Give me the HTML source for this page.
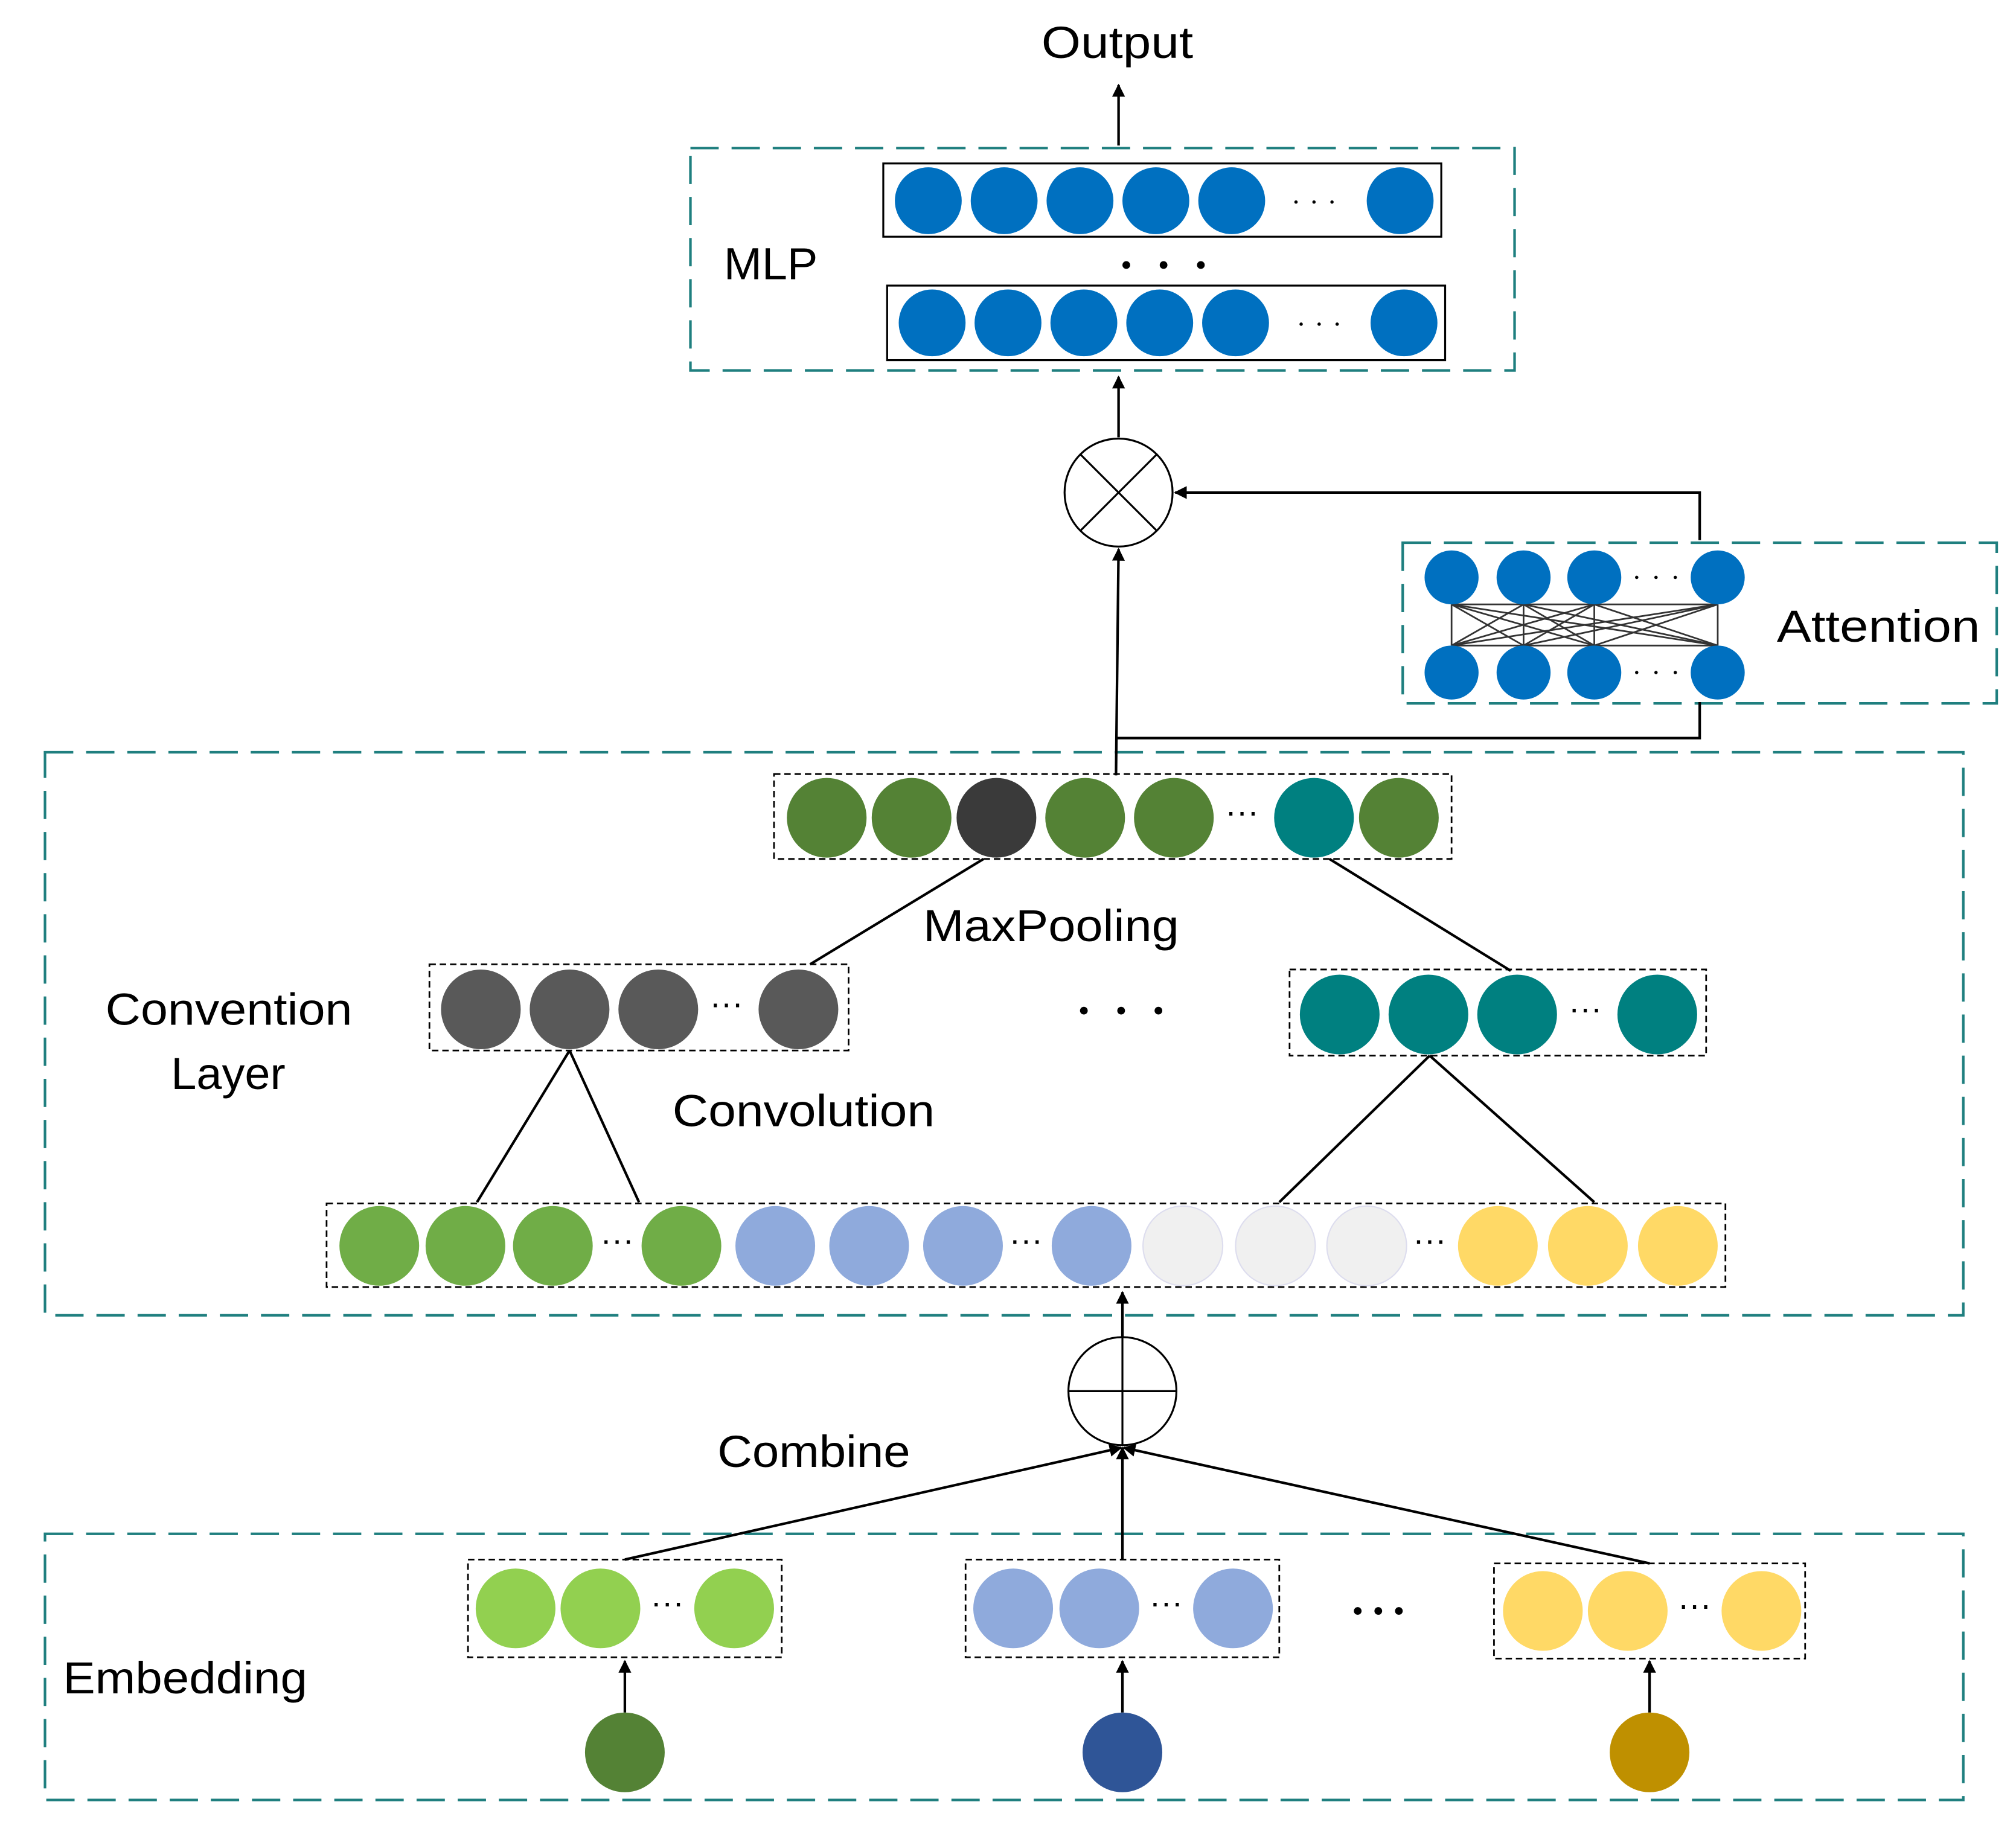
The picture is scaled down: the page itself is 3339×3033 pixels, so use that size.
<!DOCTYPE html>
<html><head><meta charset="utf-8"><style>
html,body{margin:0;padding:0;background:#fff;}
svg{display:block;}
text{font-family:"Liberation Sans",sans-serif;fill:#000;}
</style></head><body>
<svg width="3339" height="3033" viewBox="0 0 1568 1424" xmlns="http://www.w3.org/2000/svg">
<defs>
<marker id="ah" markerWidth="10" markerHeight="10" refX="9" refY="5" orient="auto" markerUnits="userSpaceOnUse">
<path d="M0,0 L10,5 L0,10 Z" fill="#000"/></marker>
</defs>
<g fill="none" stroke="#1f7f7f" stroke-width="2" stroke-dasharray="22,10">
<rect x="537" y="115" width="641" height="173"/>
<rect x="1091" y="422" width="462" height="125"/>
<rect x="35" y="585" width="1492" height="438"/>
<rect x="35" y="1193" width="1492" height="207"/>
</g>
<g fill="none" stroke="#000" stroke-width="1.5">
<rect x="687" y="127" width="434" height="57"/>
<rect x="690" y="222" width="434" height="58"/>
</g>
<g fill="none" stroke="#000" stroke-width="1.3" stroke-dasharray="5,3">
<rect x="602" y="602" width="527" height="66"/>
<rect x="334" y="750" width="326" height="67"/>
<rect x="1003" y="754" width="324" height="67"/>
<rect x="254" y="936" width="1088" height="65"/>
<rect x="364" y="1213" width="244" height="76"/>
<rect x="751" y="1213" width="244" height="76"/>
<rect x="1162" y="1216" width="242" height="74"/>
</g>
<g font-size="35">
<text x="810" y="45" textLength="118" lengthAdjust="spacingAndGlyphs">Output</text>
<text x="563" y="217" textLength="73" lengthAdjust="spacingAndGlyphs">MLP</text>
<text x="1382" y="499" textLength="158" lengthAdjust="spacingAndGlyphs">Attention</text>
<text x="718" y="732" textLength="199" lengthAdjust="spacingAndGlyphs">MaxPooling</text>
<text x="82" y="797" textLength="192" lengthAdjust="spacingAndGlyphs">Convention</text>
<text x="133" y="847" textLength="89" lengthAdjust="spacingAndGlyphs">Layer</text>
<text x="523" y="876" textLength="204" lengthAdjust="spacingAndGlyphs">Convolution</text>
<text x="558" y="1141" textLength="150" lengthAdjust="spacingAndGlyphs">Combine</text>
<text x="49" y="1317" textLength="190" lengthAdjust="spacingAndGlyphs">Embedding</text>
</g>
<g fill="#0070c0">
<circle cx="722" cy="156" r="26"/><circle cx="781" cy="156" r="26"/><circle cx="840" cy="156" r="26"/><circle cx="899" cy="156" r="26"/><circle cx="958" cy="156" r="26"/><circle cx="1089" cy="156" r="26"/>
<circle cx="725" cy="251" r="26"/><circle cx="784" cy="251" r="26"/><circle cx="843" cy="251" r="26"/><circle cx="902" cy="251" r="26"/><circle cx="961" cy="251" r="26"/><circle cx="1092" cy="251" r="26"/>
</g>
<g fill="#000">
<circle cx="1008" cy="157" r="1.3"/><circle cx="1022" cy="157" r="1.3"/><circle cx="1036" cy="157" r="1.3"/>
<circle cx="1012" cy="252" r="1.3"/><circle cx="1026" cy="252" r="1.3"/><circle cx="1040" cy="252" r="1.3"/>
<circle cx="876" cy="206" r="3"/><circle cx="905" cy="206" r="3"/><circle cx="934" cy="206" r="3"/>
<circle cx="843" cy="786" r="3"/><circle cx="872" cy="786" r="3"/><circle cx="901" cy="786" r="3"/>
<circle cx="1056" cy="1253" r="3"/><circle cx="1072" cy="1253" r="3"/><circle cx="1088" cy="1253" r="3"/>
<circle cx="1273" cy="449" r="1.3"/><circle cx="1288" cy="449" r="1.3"/><circle cx="1303" cy="449" r="1.3"/>
<circle cx="1273" cy="523" r="1.3"/><circle cx="1288" cy="523" r="1.3"/><circle cx="1303" cy="523" r="1.3"/>
</g>
<g stroke="#333" stroke-width="1.3">
<line x1="1129" y1="470" x2="1129" y2="502"/><line x1="1336" y1="470" x2="1336" y2="502"/>
<line x1="1129" y1="470" x2="1336" y2="470"/><line x1="1129" y1="502" x2="1336" y2="502"/>
<line x1="1129" y1="470" x2="1185" y2="502"/><line x1="1129" y1="470" x2="1240" y2="502"/><line x1="1129" y1="470" x2="1336" y2="502"/>
<line x1="1185" y1="470" x2="1129" y2="502"/><line x1="1185" y1="470" x2="1240" y2="502"/><line x1="1185" y1="470" x2="1336" y2="502"/>
<line x1="1240" y1="470" x2="1129" y2="502"/><line x1="1240" y1="470" x2="1185" y2="502"/><line x1="1240" y1="470" x2="1336" y2="502"/>
<line x1="1336" y1="470" x2="1129" y2="502"/><line x1="1336" y1="470" x2="1185" y2="502"/><line x1="1336" y1="470" x2="1240" y2="502"/>
<line x1="1185" y1="470" x2="1185" y2="502"/><line x1="1240" y1="470" x2="1240" y2="502"/>
</g>
<g fill="#0070c0">
<circle cx="1129" cy="449" r="21"/><circle cx="1185" cy="449" r="21"/><circle cx="1240" cy="449" r="21"/><circle cx="1336" cy="449" r="21"/>
<circle cx="1129" cy="523" r="21"/><circle cx="1185" cy="523" r="21"/><circle cx="1240" cy="523" r="21"/><circle cx="1336" cy="523" r="21"/>
</g>
<g stroke="#000" stroke-width="2" fill="none">
<line x1="870" y1="113" x2="870" y2="66" marker-end="url(#ah)"/>
<line x1="870" y1="340" x2="870" y2="293" marker-end="url(#ah)"/>
<polyline points="1322,420 1322,383 914,383" marker-end="url(#ah)"/>
<line x1="868" y1="603" x2="870" y2="427" marker-end="url(#ah)"/>
<polyline points="868,574 1322,574 1322,546"/>
<line x1="765" y1="668" x2="630" y2="750"/>
<line x1="1034" y1="668" x2="1175" y2="755"/>
<line x1="443" y1="817" x2="371" y2="935"/><line x1="443" y1="817" x2="497" y2="935"/>
<line x1="1112" y1="821" x2="995" y2="935"/><line x1="1112" y1="821" x2="1240" y2="935"/>
<line x1="873" y1="1040" x2="873" y2="1005" marker-end="url(#ah)"/>
<line x1="486" y1="1213" x2="872" y2="1126" marker-end="url(#ah)"/>
<line x1="873" y1="1213" x2="873" y2="1126" marker-end="url(#ah)"/>
<line x1="1283" y1="1216" x2="874" y2="1126" marker-end="url(#ah)"/>
<line x1="486" y1="1332" x2="486" y2="1292" marker-end="url(#ah)"/>
<line x1="873" y1="1332" x2="873" y2="1292" marker-end="url(#ah)"/>
<line x1="1283" y1="1332" x2="1283" y2="1292" marker-end="url(#ah)"/>
</g>
<circle cx="870" cy="383" r="42" fill="#fff" stroke="#000" stroke-width="1.5"/>
<line x1="840" y1="353" x2="900" y2="413" stroke="#000" stroke-width="1.5"/>
<line x1="900" y1="353" x2="840" y2="413" stroke="#000" stroke-width="1.5"/>
<circle cx="873" cy="1082" r="42" fill="#fff" stroke="#000" stroke-width="1.5"/>
<line x1="831" y1="1082" x2="915" y2="1082" stroke="#000" stroke-width="1.5"/>
<line x1="873" y1="1040" x2="873" y2="1124" stroke="#000" stroke-width="1.5"/>
<g>
<circle cx="643" cy="636" r="31" fill="#548235"/><circle cx="709" cy="636" r="31" fill="#548235"/><circle cx="775" cy="636" r="31" fill="#3a3a3a"/><circle cx="844" cy="636" r="31" fill="#548235"/><circle cx="913" cy="636" r="31" fill="#548235"/><circle cx="1022" cy="636" r="31" fill="#008080"/><circle cx="1088" cy="636" r="31" fill="#548235"/>
<circle cx="374" cy="785" r="31" fill="#595959"/><circle cx="443" cy="785" r="31" fill="#595959"/><circle cx="512" cy="785" r="31" fill="#595959"/><circle cx="621" cy="785" r="31" fill="#595959"/>
<circle cx="1042" cy="789" r="31" fill="#008080"/><circle cx="1111" cy="789" r="31" fill="#008080"/><circle cx="1180" cy="789" r="31" fill="#008080"/><circle cx="1289" cy="789" r="31" fill="#008080"/>
<circle cx="295" cy="969" r="31" fill="#70ad47"/><circle cx="362" cy="969" r="31" fill="#70ad47"/><circle cx="430" cy="969" r="31" fill="#70ad47"/><circle cx="530" cy="969" r="31" fill="#70ad47"/>
<circle cx="603" cy="969" r="31" fill="#8faadc"/><circle cx="676" cy="969" r="31" fill="#8faadc"/><circle cx="749" cy="969" r="31" fill="#8faadc"/><circle cx="849" cy="969" r="31" fill="#8faadc"/>
<circle cx="920" cy="969" r="31" fill="#f0f0f0" stroke="#dde" stroke-width="1"/><circle cx="992" cy="969" r="31" fill="#f0f0f0" stroke="#dde" stroke-width="1"/><circle cx="1063" cy="969" r="31" fill="#f0f0f0" stroke="#dde" stroke-width="1"/>
<circle cx="1165" cy="969" r="31" fill="#ffd966"/><circle cx="1235" cy="969" r="31" fill="#ffd966"/><circle cx="1305" cy="969" r="31" fill="#ffd966"/>
<circle cx="401" cy="1251" r="31" fill="#92d050"/><circle cx="467" cy="1251" r="31" fill="#92d050"/><circle cx="571" cy="1251" r="31" fill="#92d050"/>
<circle cx="788" cy="1251" r="31" fill="#8faadc"/><circle cx="855" cy="1251" r="31" fill="#8faadc"/><circle cx="959" cy="1251" r="31" fill="#8faadc"/>
<circle cx="1200" cy="1253" r="31" fill="#ffd966"/><circle cx="1266" cy="1253" r="31" fill="#ffd966"/><circle cx="1370" cy="1253" r="31" fill="#ffd966"/>
<circle cx="486" cy="1363" r="31" fill="#548235"/><circle cx="873" cy="1363" r="31" fill="#2f5597"/><circle cx="1283" cy="1363" r="31" fill="#bf9000"/>
</g>
<g font-size="26" text-anchor="middle">
<text x="966" y="640">···</text>
<text x="565" y="789">···</text>
<text x="1233" y="793">···</text>
<text x="480" y="973">···</text>
<text x="798" y="973">···</text>
<text x="1112" y="973">···</text>
<text x="519" y="1255">···</text>
<text x="907" y="1255">···</text>
<text x="1318" y="1257">···</text>
</g>
</svg>
</body></html>
